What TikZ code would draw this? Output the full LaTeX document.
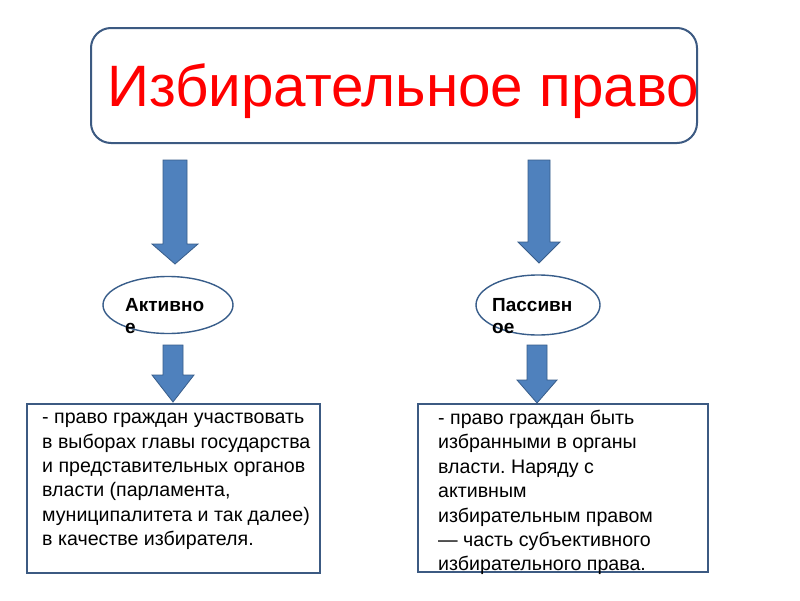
\documentclass[tikz,border=0pt]{standalone}
\usepackage{fontspec}
\setmainfont{Liberation Sans}
\frenchspacing
\usetikzlibrary{shapes.geometric}
\definecolor{arrfill}{RGB}{79,129,189}
\definecolor{arrdraw}{RGB}{56,93,138}
\definecolor{boxdraw}{RGB}{60,90,130}
\begin{document}
\begin{tikzpicture}[x=1pt,y=-1pt,
  titlebox/.style={draw=boxdraw,line width=2pt,rounded corners=20pt,fill=white},
  infobox/.style={draw=boxdraw,line width=1.8pt},
  oval/.style={draw=arrdraw,line width=1.4pt,ellipse,inner sep=0pt},
  ovaltext/.style={font=\bfseries\fontsize{19}{22}\selectfont,align=left,inner sep=0pt,anchor=north west},
  boxtext/.style={font=\fontsize{19.6}{24.4}\selectfont,align=left,inner sep=0pt,anchor=north west},
  blockarrow/.style={fill=arrfill,draw=arrdraw,line width=0.8pt,line join=miter}]
\useasboundingbox (0,0) rectangle (800,600);
\fill[white] (0,0) rectangle (800,600);
% title box
\draw[titlebox] (91,28) rectangle (697,143);
\node[anchor=base west,inner sep=0pt,text=red,font=\fontsize{58.4}{60}\selectfont] (title) at (107,106) {Избирательное право};
% ellipses
\node[oval,minimum width=130pt,minimum height=57pt] (act) at (168,305) {};
\node[oval,minimum width=124pt,minimum height=60pt] (pas) at (538,305) {};
\node[ovaltext] (acttext) at (125,298) {Активно\\е};
\node[ovaltext] (pastext) at (492,298) {Пассивн\\ое};
% block arrows
\newcommand\blockarr[7]{% cx, top, headstart, tip, shaft hw, head hw, name
  \draw[blockarrow] (#1-#5,#2) -- (#1+#5,#2) -- (#1+#5,#3) -- (#1+#6,#3) -- (#1,#4) -- (#1-#6,#3) -- (#1-#5,#3) -- cycle;
  \coordinate (#7) at (#1,#4);}
\blockarr{175}{160}{244}{264}{12}{23}{a1}
\blockarr{539}{160}{242}{263}{11}{21}{a2}
\blockarr{173}{345}{375}{402}{10}{21}{a3}
\blockarr{537}{345}{380}{403}{10}{20}{a4}
% info boxes
\draw[infobox] (27,404) rectangle (320,573);
\draw[infobox] (418,404) rectangle (708,572);
\node[boxtext] (lefttext) at (42,413) {- право граждан участвовать\\в выборах главы государства\\и представительных органов\\власти (парламента,\\муниципалитета и так далее)\\в качестве избирателя.};
\node[boxtext] (righttext) at (438,410) {- право граждан быть\\избранными в органы\\власти. Наряду с\\активным\\избирательным правом\\— часть субъективного\\избирательного права.};
\end{tikzpicture}
\end{document}
